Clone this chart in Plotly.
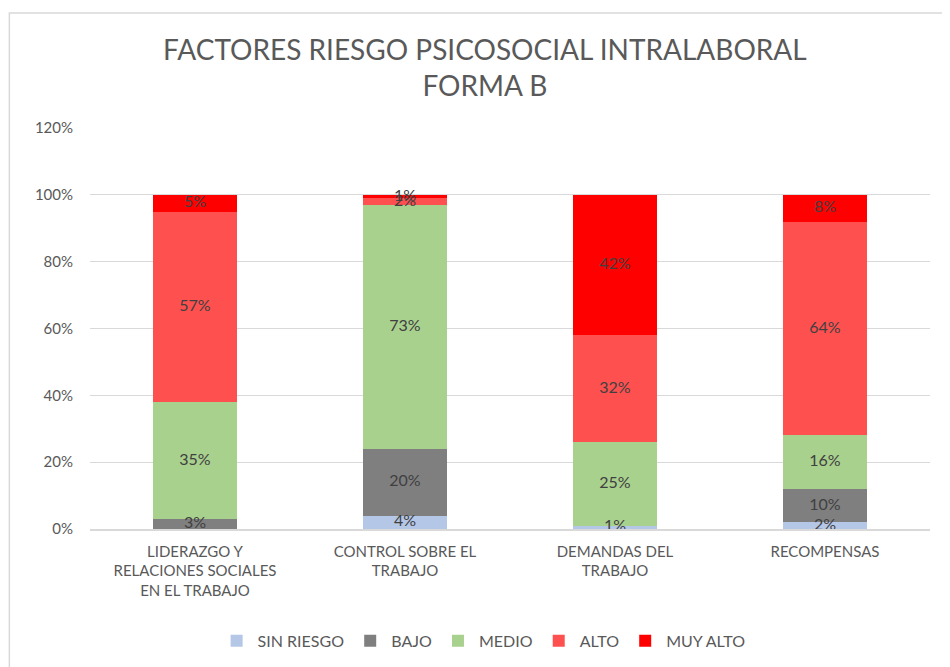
import plotly.graph_objects as go

# ─────────────────────────────────────────────
#  DATA
# ─────────────────────────────────────────────
categories = [
    "LIDERAZGO Y<br>RELACIONES SOCIALES<br>EN EL TRABAJO",
    "CONTROL SOBRE EL<br>TRABAJO",
    "DEMANDAS DEL<br>TRABAJO",
    "RECOMPENSAS",
]
levels = ["SIN RIESGO", "BAJO", "MEDIO", "ALTO", "MUY ALTO"]
sin_riesgo = [0, 4, 1, 2]
bajo       = [3, 20, 0, 10]
medio      = [35, 73, 25, 16]
alto       = [57, 2, 32, 64]
muy_alto   = [5, 1, 42, 8]
y_ticks    = [0, 20, 40, 60, 80, 100, 120]

series = [sin_riesgo, bajo, medio, alto, muy_alto]
COLORS = ["#B4C7E7", "#7F7F7F", "#A9D18E", "#FF5050", "#FF0000"]
INK = "#595959"
LABEL_INK = "#404040"
FONT = "Lato, 'Open Sans', sans-serif"

fig = go.Figure()
for name, vals, color in zip(levels, series, COLORS):
    fig.add_trace(go.Bar(
        x=categories, y=vals, name=name,
        marker=dict(color=color, line=dict(width=0)),
        width=0.4,
        hovertemplate="%{x}<br>" + name + ": %{y}%<extra></extra>",
    ))

# data labels centred in each segment (skip empty ones)
lx, ly, lt = [], [], []
base = [0] * len(categories)
for vals in series:
    for i, v in enumerate(vals):
        if v > 0:
            lx.append(categories[i])
            ly.append(base[i] + v / 2)
            lt.append(f"{v}%")
        base[i] += v
fig.add_trace(go.Scatter(
    x=lx, y=ly, text=lt, mode="text",
    textfont=dict(family=FONT, size=16, color=LABEL_INK),
    showlegend=False, hoverinfo="skip",
))

# page body adds an 8px offset, margins are set to compensate
fig.update_layout(
    barmode="stack",
    width=950, height=667,
    paper_bgcolor="white", plot_bgcolor="white",
    font=dict(family=FONT, size=15, color=INK),
    margin=dict(l=82, r=28, t=120, b=146, autoexpand=False),
    title=dict(
        text="FACTORES RIESGO PSICOSOCIAL INTRALABORAL<br>FORMA B",
        x=0.502, xanchor="center", y=0.922, yanchor="top",
        font=dict(family=FONT, size=28, color=INK),
    ),
    legend=dict(
        orientation="h", x=0.468, xanchor="center", y=-0.279, yanchor="middle",
        font=dict(family=FONT, size=16, color=INK),
        traceorder="normal", itemwidth=32,
    ),
    shapes=[dict(
        type="rect", xref="paper", yref="paper",
        x0=-0.096, x1=1.019, y0=-0.36, y1=1.287,
        line=dict(color="#D9D9D9", width=1.5), layer="below",
    )],
)
fig.update_xaxes(
    showgrid=False, showline=True, linecolor="#D9D9D9", linewidth=1.5,
    ticks="", ticklabelstandoff=8, tickfont=dict(size=15, color=INK),
    automargin=False,
)
fig.update_yaxes(
    range=[0, 120], tickvals=y_ticks, ticktext=[f"{t}%" for t in y_ticks],
    showgrid=True, gridcolor="#D9D9D9", gridwidth=1.2, zeroline=False,
    showline=False, ticks="", ticklabelstandoff=16, automargin=False,
    tickfont=dict(size=15, color=INK),
)

fig.write_html("out.html")
